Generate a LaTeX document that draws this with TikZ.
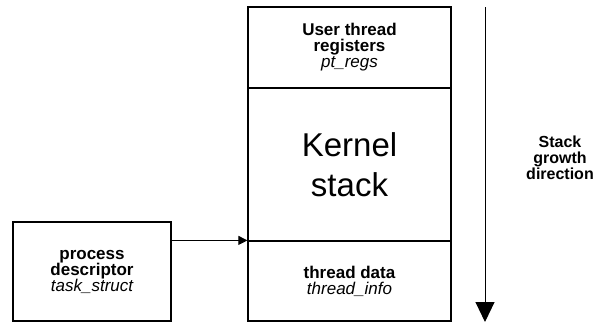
\documentclass[tikz,border=0pt]{standalone}
\usepackage{fontspec}
\setmainfont{Liberation Sans}
\usepackage{tikz}
\usetikzlibrary{arrows.meta,positioning}

\begin{document}
\begin{tikzpicture}[x=1pt, y=-1pt,
  part/.style={rectangle, draw, line width=1.2pt, minimum width=203pt, inner sep=0pt, align=center, font=\bfseries\fontsize{17}{16}\selectfont},
  desc/.style={rectangle, draw, line width=1.2pt, minimum width=158pt, minimum height=99pt, inner sep=0pt, align=center, font=\bfseries\fontsize{17}{16}\selectfont},
  edge/.style={-{Triangle[length=9pt, width=9pt]}, line width=1pt},
  growth/.style={-{Triangle[length=20pt, width=19pt]}, line width=1pt}
]
\useasboundingbox (0,0) rectangle (596,322);

% kernel stack column
\node[part, minimum height=81pt] (regs) at (349.5,47.5) {User thread\\registers\\{\normalfont\itshape pt\_regs}};
\node[part, minimum height=153pt, font=\fontsize{33}{40}\selectfont] (kstack) at (349.5,164.5) {Kernel\\stack};
\node[part, minimum height=80pt] (tdata) at (349.5,281) {thread data\\{\normalfont\itshape thread\_info}};

% process descriptor
\node[desc] (pdesc) at (92,271.5) {process\\descriptor\\{\normalfont\itshape task\_struct}};
\draw[edge] (tdata.north west -| pdesc.east) -- (tdata.north west);

% growth direction
\coordinate (gtop) at (485,7);
\coordinate (gbot) at (485,322);
\draw[growth] (gtop) -- (gbot);
\node[font=\bfseries\fontsize{16}{16}\selectfont, align=center] (glabel) at (560,158) {Stack\\growth\\direction};
\end{tikzpicture}
\end{document}
